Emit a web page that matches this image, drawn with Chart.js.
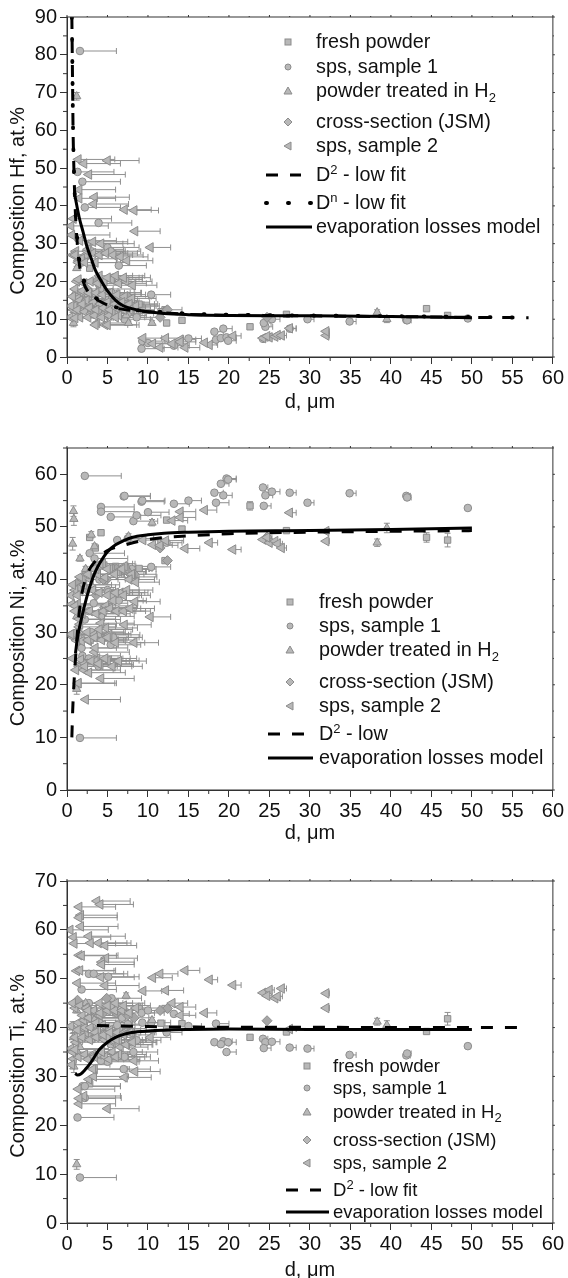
<!DOCTYPE html>
<html><head><meta charset="utf-8">
<script src="https://cdn.jsdelivr.net/npm/chart.js@4"></script>
<style>
html,body{margin:0;padding:0;background:#fff;width:568px;height:1278px;overflow:hidden}
canvas{position:absolute;left:0}
.lg{position:absolute;font:20px "Liberation Sans",Arial,sans-serif;color:#111;white-space:nowrap;transform:translateY(-50%);line-height:1}
.lg sub,.lg sup{font-size:13px;line-height:0}
svg{position:absolute;left:0;top:0}
</style></head><body>
<svg id="keys" width="568" height="1278"></svg>
<script>
const freshD  = [2.8,4.2,8.9,12.3,12.1,14.2,22.6,27.1,44.4,47,6,11.6,3.5];
const freshHf = [23.5,13,14,9,12.5,9.7,8,11.3,12.8,11,14,12,16];
const freshNi = [48,48.9,42.1,51.3,43.6,49.6,54,49.3,48,47.5,42.5,47.1,46];
const freshTi = [28.5,38,43.9,39.7,43.9,40.8,38,39.1,39.2,41.8,43,40.9,38];
const freshYErrNi = [0,0,0,0,0,0,0.8,0,0.9,1.3,0,0,0];
const freshYErrTi = [0,0,0,0,0,0,0,0,0,1.3,0,0,0];

const sps1D   = [1.6,1.3,2.2,1.9,2.2,1.8,3.9,5,6.4,10.4, 2.7,3.3,5.1,4.2,4.2,5.4,7,7.1,9.2,9.3, 8.2,8.6,10,13.2,15,18.2,18.4,19.3,19,19.7, 19.9,24.2,24.5,24.3,25.3,27.5,29.7,34.9,41.9,42, 49.5,12.3,3,4,5.5,6.2,6.8,7.5,5.7,5.4, 2.8,2.7,8,3.4];
const sps1Err = [4.5,4.5,4.5,4.7,4.4,4.3,4.1,3.9,3.4,2.4, 4.3,4.2,3.8,4.1,4.1,3.7,3.3,3.2,2.8,2.8, 3,3,2.6,1.9,1.6,1.1,1.6,1.1,1,1.2, 1,0.6,0.9,0.9,1,0.8,0.8,0.8,0.5,0.5, 0.3,1.9,4.2,4.1,3.7,3.5,3.3,3.2,3.6,3.7, 4.3,4.2,3,4.1];
const sps1Hf  = [81,49,14.7,46.4,39.6,25,35.5,29,24.2,16.5, 15,13.5,12,13,12.5,11.5,13,10,2.2,4.2, 14,10.5,3.7,3,4.9,6.7,4.6,7.5,5,5.2, 4.3,4.8,8,9,10,7.5,10,9.4,9.8,9.7, 10.2,12.5,28,19,17,12,16,11.5,21,28, 17,30,13.5,15];
const sps1Ni  = [9.9,29.5,59.7,25.5,32.4,27,23.5,38,36,42.4, 34,35.5,37.6,53.8,52.9,51.9,55.8,55.9,54.8,55, 51.1,52.2,52.8,54.4,55,56.5,54.6,56,58.2,59.2, 59,57.5,56,54,56.7,56.5,54.6,56.4,55.9,55.6, 53.6,47,30,40,37,47.5,42,47.8,29,27.6, 45,25,42,44];
const sps1Ti  = [9.3,21.6,25.6,28,28,47.8,41,33,39.8,41, 51,51,50.4,33.2,34.6,36.6,31.5,34,43,41, 35,37.4,43.5,42.8,40.3,37,40.8,37.2,36.6,35, 37,37.7,37,35.8,37.1,35.9,35.7,34.4,34.3,34.7, 36.2,39,42,41,46,40.5,42,40.7,44.5,44.4, 38,45,37,42];

const h2D    = [1.2,0.8,0.85,0.7,3,3.4,7.3,7.6,10.5,38.3,39.5,1.3,1.2,2.3,1.6];
const h2Hf   = [69,9,16.5,13,14,12,11,9,9,11.8,10,26,23.5,13,20];
const h2Ni   = [19.2,53,51.5,46.8,48.5,46.3,42.5,48.2,50.8,47,49.8,39,33,42,44];
const h2Ti   = [12,38,32,40,37.5,41.7,46.5,42.8,41.5,41.2,40.5,35,43.5,45,36];
const h2YErr = [1,1,1.2,1.2,0.6,0.5,0.6,0.5,0.6,0.7,0.9,0.5,0.5,0.5,0.5];

const jsmD  = [1.3,4.9,24.7,12.4,11.5,2.5,3.6,4.5,6.1,7.5,8.3];
const jsmHf = [15,14,10.5,12.5,10.5,18,20,17,15,16,14];
const jsmNi = [39.4,40,48.1,43.6,46,38,37,40,42,41.5,41];
const jsmTi = [45.6,46,41.4,43.9,43.5,44,43,43,43,42.5,42];

const sps2D = [3.7,4.1,1.5,1.7,1.5,1.7,0.4,0.8,2.7,0.9, 2.9,3.9,4.7,1.5,1.8,4.8,4.3,4.3,1.2,1.6, 1.3,4.2,4.7,1.4,2.1,5,2.7,1.5,3.4,3.3,
 1.5,7.1,8.3,8.4,10.3,0.8,0.5,0.6,1.6,3.2, 9.4,10.6,11.5,12.2,14.6,14,14,13,17.6,17, 20.5,24.2,25,24.7,25.7,26,26.5,27.5,32,32,
 2.3,1.4,4.2,1.1,0.7,1,1.8,2.5,3.2,4, 4.8,5.7,6.6,7.4,2.2,3.5,1.4,2.1,2.9,3.8, 4.6,5.5,6.4,7.3,8.1,1,1.9,2.7,3.6,4.4,
 5.3,6.2,7.1,8,0.7,1.6,2.4,3.3,4.1,5, 5.9,6.8,7.7,8.5,0.5,1.3,2.2,3,3.9,4.7, 5.6,6.4,2.6,3.4,4.3,5.2,6,3.5,5,1,
 1.9,2.8,3.6,4.5,5.3,6.1,7,7.8,4,5, 6,7,2.6];
const sps2Err = [4.1,4.1,4.5,4.5,4.7,4.6,4.7,4.6,4.5,5.1, 4.5,4,3.9,4.8,4.3,3.9,4,4,4.6,4.4, 4.7,4.1,4.2,4.5,4.5,3.9,4.5,4.5,4.3,4.3,
 4.5,3.3,3,3.1,2.5,4.7,4.6,4.7,4.5,4.3, 2.3,2.4,2.2,2.2,1.8,1.9,1.9,1.9,1,1.5, 1,0.6,0.6,0.6,0.6,0.6,0.6,0.8,0.4,0.4,
 4.3,4.7,4.1,4.6,4.8,4.6,4.4,4.5,4.3,4.1, 3.9,3.7,3.4,3.2,4.4,4.2,4.6,4.4,4.3,4.1, 3.9,3.8,3.4,3.2,3,4.7,4.4,4.4,4.2,4,
 3.8,3.5,3.3,3,4.8,4.5,4.4,4.2,4,3.9, 3.6,3.4,3.1,2.9,4.7,4.6,4.4,4.3,4.1,3.9, 3.7,3.4,4.4,4.2,4,3.8,3.6,4,3.9,4.7,
 4.4,4.3,4.2,4,3.8,3.6,3.3,3,4.1,3.9, 3.6,3.3,4.4];
const sps2Hf = [9,11,11.5,13,14,14.5,10.5,12.5,13,13.5, 14,13,8.5,16.5,17,15,12.5,14,20,10.5, 15.5,18,11,52.3,51.2,52,48.3,44.3,42.3,40.5,
 42,39,38.8,33.3,29,36.6,34.7,32.3,30.8,30.5, 5,3.5,2.5,5,2.5,4.6,4,3.5,3.2,3.8, 5.6,5,5.2,5.5,5.4,5.8,5.7,7.6,5.7,6.8,
 27,25,30,28,27,27,26,28,27.5,27, 27.5,27,26.5,25.5,25,25,20.5,19.5,20,19.5, 20,20.5,19.5,20,19,18,17.5,17,17,16.5,
 17,16.5,16,15.5,16,15,15,14.5,14,14.5, 14,14.5,14,13.5,13.5,12.5,12,11.5,12,11.5, 12,11,10.5,11,10.5,11,10.5,8.5,8.5,10.3,
 14,13,12.5,13,12.5,13,12.5,12.5,21.5,21, 21.5,21,28.5];
const sps2Ni = [25,23.8,23.8,24,23.5,24.8,29.5,29,28.3,29.3, 28.7,29.7,34.7,28.7,28.3,30.8,34,33,28.4,37.8, 35.4,31.7,40.4,20.3,22.8,24.6,22.3,31,26.2,29.5,
 32.5,31.4,28,35.8,32.9,29.8,29.6,35.3,31.5,38, 47.5,46.6,46.5,47.4,45.9,52.9,51.8,51.2,47,53.2, 45.7,47.6,47,48,47.3,46.8,46,52.7,47.3,49.2,
 17.2,20.3,21.2,22.8,25,35,34,30,38,30.5, 35,36,37.5,38,24,24.5,38.5,39,40,41, 42.5,42,41.5,42,40.5,38,40,41,42,43,
 42,41.5,42.5,41,39,40.5,41,42,43,42, 41,42,40,39.5,37,37,23.5,24.5,24,25, 23.5,24.5,28.5,29,28.5,29.5,28,27,29,34,
 33.5,34,33.5,34,34.5,34,34,34.5,37.5,37, 37.5,37,41];
const sps2Ti = [65.9,65.2,64.7,63,62.5,60.7,60,58.5,58.7,57.2, 57.3,57.3,56.8,54.8,54.7,54.2,53.4,52.9,51.6,51.7, 49.1,50.3,48.6,27.4,26,23.4,29.4,24.4,31.5,30,
 25.5,29.8,33.2,31,38,33.6,35.7,32.4,37.7,31.5, 47.5,50.2,51,47.6,51.7,42.5,44.2,45,49.8,43, 48.7,47.1,47.7,46.5,46,46.4,48,39.7,47,44,
 39,34,38.5,37,35,38,40,42,34.5,42.5, 37.5,37,36,36.5,40,39.5,41,41.5,40,39.5, 37.5,37.5,37.5,36.5,37,44,42.5,42,41,40.5,
 39.5,39,39,39,45,44.5,44,43.5,43,43.5, 43.5,43.5,43,44,40.3,39.5,34.5,34,34.5,34, 35,34.5,33.5,34,35,33.5,34,39,38,35.5,
 38,37.5,38,38.5,39,37.5,38.5,39,45,44.5, 45,44.5,43.5];

/* fitted curves */
const hfModelD  = [0.95,1.5,2,2.5,3,3.5,4,5,6,7,8,9,10,12,15,20,30,40,50];
const hfModelV  = [43,37,33,29,26,23,21,17.5,15,13.5,12.8,12.3,12,11.5,11.2,11,10.9,10.7,10.4];
const hfD2D     = [0.6,0.65,0.7,0.75,0.85,1,1.2,1.5,2,2.7,4,6,8,10,15,25,35,50,57];
const hfD2V     = [90,80,70,60,50,40,32,25,20,17,14.8,13,12.3,12,11.3,11,10.8,10.5,10.4];
const hfDnD     = [0.6,0.65,0.7,0.75,0.85,1,1.2,1.5,2,2.7,4,6,8,10,15,25,35,50,57];
const hfDnV     = [90,80,70,60,50,41,33,26,21,17.5,15,13.2,12.5,12.2,11.5,11.1,10.9,10.6,10.4];
const niModelD  = [1.05,1.3,1.7,2,2.5,3,3.5,4,5,6,7,8,10,12,15,20,30,40,50];
const niModelV  = [26,29,32,34,37,39.5,41.5,43,45.3,46.6,47.4,48,48.5,48.8,49,49.2,49.3,49.5,49.8];
const niD2D     = [0.6,0.7,0.85,1.1,1.4,1.8,2.5,3.5,5,7,9,12,15,20,30,50];
const niD2V     = [10,15,20,26,32,37,41,43.5,45.5,46.5,47.3,48,48.3,48.7,49,49.3];
const tiModelD  = [1,1.3,1.7,2.3,3,4,5,6,7,8,10,15,20,30,50];
const tiModelV  = [30.6,30.3,30.5,31.5,33,35.5,37,38,38.6,39,39.3,39.6,39.7,39.6,39.6];
const tiD2D     = [3.7,10,15,30,57];
const tiD2V     = [40.4,40.2,40.1,40.05,40];

/* axes */
const xTicks   = [0,5,10,15,20,25,30,35,40,45,50,55,60];
const hfTicks  = [0,10,20,30,40,50,60,70,80,90];
const niTicks  = [0,10,20,30,40,50,60];
const tiTicks  = [0,10,20,30,40,50,60,70];
const hfTitle  = "Composition Hf, at.%";
const niTitle  = "Composition Ni, at.%";
const tiTitle  = "Composition Ti, at.%";
const xTitle   = "d, \u03bcm";

const MARK = {fill:'#b8b8b8', edge:'#8c8c8c', diamond:'#a6a6a6', bar:'#8f8f8f', line:'#000'};
const FONT = '"Liberation Sans", Arial, sans-serif';

function pts(xs, ys, errX, errY){
  return xs.map((x,i)=>({x, y:ys[i], ex: errX? errX[i]:0, ey: errY? errY[i]:0}));
}
function line(label, xs, ys, dash, order, w){
  return {type:'line', label, data:pts(xs,ys), borderColor:MARK.line, borderWidth:w||3, borderDash:dash,
    borderCapStyle:dash.length&&dash[0]<2?'round':'butt', pointRadius:0, tension:0.35, cubicInterpolationMode:'monotone', fill:false, order};
}
function scatter(label, data, style, radius, rot, order, fill){
  return {type:'scatter', label, data, pointStyle:style, pointRadius:radius, pointRotation:rot,
    backgroundColor:fill||MARK.fill, borderColor:MARK.edge, borderWidth:1, order};
}

const errorBars = {
  id:'errorBars',
  beforeDatasetsDraw(c){
    const g=c.ctx,x=c.scales.x,y=c.scales.y;
    g.save();g.strokeStyle=MARK.bar;g.lineWidth=1;
    c.data.datasets.forEach(ds=>{
      if(ds.type!=='scatter')return;
      ds.data.forEach(p=>{
        const px=x.getPixelForValue(p.x),py=y.getPixelForValue(p.y);
        if(p.ex){const e=x.getPixelForValue(p.x+p.ex);
          g.beginPath();g.moveTo(px,py);g.lineTo(e,py);g.moveTo(e,py-3);g.lineTo(e,py+3);g.stroke();}
        if(p.ey){const a=y.getPixelForValue(p.y+p.ey),b=y.getPixelForValue(p.y-p.ey);
          g.beginPath();g.moveTo(px,a);g.lineTo(px,b);g.moveTo(px-3,a);g.lineTo(px+3,a);g.moveTo(px-3,b);g.lineTo(px+3,b);g.stroke();}
      });
    });
    g.restore();
  }
};
const frameTicks = {
  id:'frameTicks',
  afterDatasetsDraw(c){
    const g=c.ctx,a=c.chartArea,x=c.scales.x,y=c.scales.y;
    g.save();g.strokeStyle='#333';g.lineWidth=1;
    g.strokeRect(a.left,a.top,a.right-a.left,a.bottom-a.top);
    g.beginPath();
    for(let v=x.min;v<=x.max;v+=2.5){const p=x.getPixelForValue(v),major=v%5===0;
      g.moveTo(p,a.top);g.lineTo(p,a.top-(major?2:1));
      if(!major){g.moveTo(p,a.bottom);g.lineTo(p,a.bottom+4);}}
    for(let v=y.min;v<=y.max;v+=5){const p=y.getPixelForValue(v),major=v%10===0;
      g.moveTo(a.right,p);g.lineTo(a.right+(major?2:1),p);
      if(!major){g.moveTo(a.left,p);g.lineTo(a.left-4,p);}}
    g.stroke();g.restore();
  }
};

function panel(cfg){
  const cv=document.createElement('canvas');
  cv.width=568;cv.height=cfg.height;cv.style.top=cfg.top+'px';cv.style.width='568px';cv.style.height=cfg.height+'px';
  document.body.appendChild(cv);
  const hidden={display:true,drawOnChartArea:false,drawTicks:true,tickLength:7,tickColor:'#333',tickWidth:1};
  new Chart(cv,{
    data:{datasets:cfg.datasets},
    plugins:[errorBars,frameTicks],
    options:{
      responsive:false,animation:false,devicePixelRatio:1,
      layout:{padding:{top:17,right:13,left:0,bottom:0}},
      plugins:{legend:{display:false},tooltip:{enabled:false}},
      scales:{
        x:{type:'linear',min:0,max:60,grid:hidden,border:{color:'#333',width:1},
          afterBuildTicks:s=>{s.ticks=xTicks.map(value=>({value}))},
          afterFit:s=>{s.height=cfg.xHeight},
          ticks:{autoSkip:false,maxRotation:0,color:'#111',padding:4,font:{family:FONT,size:20,lineHeight:1}},
          title:{display:true,text:xTitle,color:'#111',padding:0,font:{family:FONT,size:20,lineHeight:1}}},
        y:{type:'linear',min:0,max:cfg.yMax,grid:hidden,border:{color:'#333',width:1},
          afterBuildTicks:s=>{s.ticks=cfg.yTicks.map(value=>({value}))},
          afterFit:s=>{s.width=67},
          ticks:{autoSkip:false,color:'#111',padding:3,font:{family:FONT,size:20,lineHeight:1}},
          title:{display:true,text:cfg.yTitle+'     ',color:'#111',padding:{top:8,bottom:0},font:{family:FONT,size:20,lineHeight:1}}}
      }
    }
  });
}

panel({top:0,height:412,xHeight:55,yMax:90,yTicks:hfTicks,yTitle:hfTitle,datasets:[
  line('evaporation losses model',hfModelD,hfModelV,[],1),
  line('Dn - low fit',hfDnD,hfDnV,[1,21],2,3.8),
  line('D2 - low fit',hfD2D,hfD2V,[12,12],3),
  scatter('sps, sample 2',pts(sps2D,sps2Hf,sps2Err),'triangle',5.5,-90,4),
  scatter('cross-section (JSM)',pts(jsmD,jsmHf),'rectRot',5,0,5,MARK.diamond),
  scatter('powder treated in H2',pts(h2D,h2Hf,null,h2YErr),'triangle',4.8,0,6),
  scatter('sps, sample 1',pts(sps1D,sps1Hf,sps1Err),'circle',3.8,0,7),
  scatter('fresh powder',pts(freshD,freshHf),'rect',4.5,0,8)
]});
panel({top:431,height:412,xHeight:53,yMax:65,yTicks:niTicks,yTitle:niTitle,datasets:[
  line('evaporation losses model',niModelD,niModelV,[],1),
  line('D2 - low',niD2D,niD2V,[12,12],2),
  scatter('sps, sample 2',pts(sps2D,sps2Ni,sps2Err),'triangle',5.5,-90,4),
  scatter('cross-section (JSM)',pts(jsmD,jsmNi),'rectRot',5,0,5,MARK.diamond),
  scatter('powder treated in H2',pts(h2D,h2Ni,null,h2YErr),'triangle',4.8,0,6),
  scatter('sps, sample 1',pts(sps1D,sps1Ni,sps1Err),'circle',3.8,0,7),
  scatter('fresh powder',pts(freshD,freshNi,null,freshYErrNi),'rect',4.5,0,8)
]});
panel({top:864,height:416,xHeight:57,yMax:70,yTicks:tiTicks,yTitle:tiTitle,datasets:[
  line('evaporation losses model',tiModelD,tiModelV,[],1),
  line('D2 - low fit',tiD2D,tiD2V,[12,12],2),
  scatter('sps, sample 2',pts(sps2D,sps2Ti,sps2Err),'triangle',5.5,-90,4),
  scatter('cross-section (JSM)',pts(jsmD,jsmTi),'rectRot',5,0,5,MARK.diamond),
  scatter('powder treated in H2',pts(h2D,h2Ti,null,h2YErr),'triangle',4.8,0,6),
  scatter('sps, sample 1',pts(sps1D,sps1Ti,sps1Err),'circle',3.8,0,7),
  scatter('fresh powder',pts(freshD,freshTi,null,freshYErrTi),'rect',4.5,0,8)
]});

/* legends */
const NS='http://www.w3.org/2000/svg';
const keys=document.getElementById('keys');
function el(n,a){const e=document.createElementNS(NS,n);for(const k in a)e.setAttribute(k,a[k]);keys.appendChild(e);return e;}
function key(kind,x,y){
  const s={fill:MARK.fill,stroke:MARK.edge,'stroke-width':1};
  if(kind==='sq')el('rect',{x:x-3,y:y-3,width:6,height:6,...s});
  if(kind==='ci')el('circle',{cx:x,cy:y,r:3,...s});
  if(kind==='up')el('polygon',{points:`${x},${y-4} ${x+4},${y+3} ${x-4},${y+3}`,...s});
  if(kind==='di')el('polygon',{points:`${x},${y-4} ${x+4},${y} ${x},${y+4} ${x-4},${y}`,...s});
  if(kind==='le')el('polygon',{points:`${x-4},${y} ${x+3},${y-4} ${x+3},${y+4}`,...s});
}
function text(html,x,y,size){
  const d=document.createElement('div');d.className='lg';d.innerHTML=html;
  d.style.left=x+'px';d.style.top=y+'px';d.style.fontSize=size+'px';document.body.appendChild(d);
}
const legendNames=['fresh powder','sps, sample 1','powder treated in H<sub>2</sub>','cross-section (JSM)','sps, sample 2'];
const legendKinds=['sq','ci','up','di','le'];
function legend(mx,tx,ys,lx0,lx1,lineRows,size){
  legendNames.forEach((n,i)=>{key(legendKinds[i],mx,ys[i]);text(n,tx,ys[i],size);});
  lineRows.forEach(r=>{
    const a={x1:lx0,x2:r.end||lx1,y1:r.y,y2:r.y,stroke:'#000','stroke-width':3};
    if(r.dash)a['stroke-dasharray']=r.dash;
    if(r.dash==='1 21'){a['stroke-linecap']='round';a['stroke-width']=4;}
    el('line',a);text(r.t,tx,r.y,size);
  });
}
legend(288,316,[42,67,91,122,146],266,312,[
  {y:175,dash:'12 12',end:301,t:'D<sup>2</sup> - low fit'},
  {y:203,dash:'1 21',t:'D<sup>n</sup> - low fit'},
  {y:227,t:'evaporation losses model'}],19.8);
legend(290,319,[602,626,650,682,706],268,313,[
  {y:734,dash:'12 12',end:304,t:'D<sup>2</sup> - low'},
  {y:758,t:'evaporation losses model'}],19.8);
legend(307,333,[1066,1088,1112,1140,1163],286,329,[
  {y:1190,dash:'12 12',end:321,t:'D<sup>2</sup> - low fit'},
  {y:1212,t:'evaporation losses model'}],18.5);
</script>
</body></html>
